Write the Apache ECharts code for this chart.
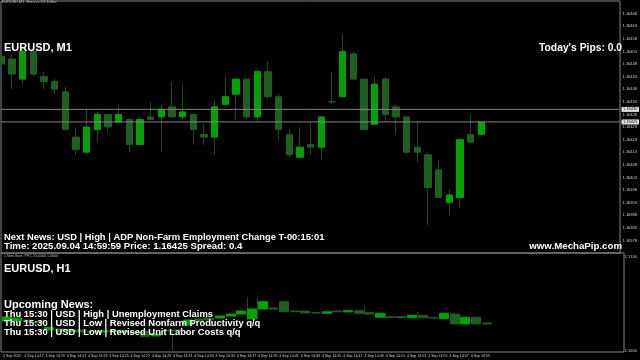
<!DOCTYPE html>
<html><head><meta charset="utf-8">
<script src="https://cdn.jsdelivr.net/npm/echarts@6/dist/echarts.min.js"></script>
<style>html,body{margin:0;padding:0;background:#000}#c{width:640px;height:360px}</style>
</head><body><div id="c"></div>
<script>
// ---- categories (M1 bar times) ----
const timeCats = ['14:15','14:16','14:17','14:18','14:19','14:20','14:21','14:22','14:23','14:24',
'14:25','14:26','14:27','14:28','14:29','14:30','14:31','14:32','14:33','14:34',
'14:35','14:36','14:37','14:38','14:39','14:40','14:41','14:42','14:43','14:44',
'14:45','14:46','14:47','14:48','14:49','14:50','14:51','14:52','14:53','14:54',
'14:55','14:56','14:57','14:58','14:59','15:00','15:01'];
const firstDateLabel = '4 Sep 2025';
const dayPrefix = '4 Sep ';

// ---- EURUSD M1 candles ----
const openP = [1.16451,1.16450,1.16442,1.16453,1.16443,1.16441,1.16437,1.16419,1.16413,1.16422,
1.16428,1.16425,1.16426,1.16416,1.16427,1.16427,1.16431,1.16427,1.16428,1.16420,
1.16419,1.16432,1.16436,1.16442,1.16427,1.16445,1.16435,1.16420,1.16411,1.16416,
1.16415,1.16433,1.16435,1.16452,1.16442,1.16424,1.16442,1.16431,1.16427,1.16415,
1.16412,1.16406,1.16393,1.16395,1.16420,1.16420];
const closeP = [1.16448,1.16444,1.16453,1.16444,1.16441,1.16438,1.16422,1.16414,1.16423,1.16428,
1.16423,1.16428,1.16416,1.16426,1.16426,1.16430,1.16427,1.16429,1.16422,1.16419,
1.16431,1.16435,1.16442,1.16427,1.16445,1.16435,1.16422,1.16412,1.16415,1.16415,
1.16427,1.16433,1.16453,1.16442,1.16422,1.16440,1.16428,1.16427,1.16413,1.16413,
1.16399,1.16395,1.16396,1.16418,1.16417,1.16425];
const highP = [1.16451,1.16452,1.16455,1.16454,1.16445,1.16442,1.16439,1.16423,1.16430,1.16429,
1.16428,1.16432,1.16426,1.16427,1.16433,1.16432,1.16441,1.16440,1.16428,1.16424,
1.16434,1.16443,1.16442,1.16442,1.16446,1.16449,1.16436,1.16422,1.16423,1.16425,
1.16427,1.16445,1.16460,1.16453,1.16442,1.16443,1.16443,1.16432,1.16427,1.16425,
1.16413,1.16410,1.16398,1.16419,1.16428,1.16425];
const lowP = [1.16447,1.16438,1.16440,1.16443,1.16438,1.16436,1.16422,1.16412,1.16412,1.16417,
1.16421,1.16425,1.16413,1.16416,1.16426,1.16413,1.16427,1.16426,1.16416,1.16416,
1.16412,1.16432,1.16426,1.16426,1.16425,1.16434,1.16418,1.16411,1.16411,1.16412,
1.16410,1.16432,1.16435,1.16442,1.16422,1.16424,1.16425,1.16420,1.16412,1.16409,
1.16384,1.16395,1.16388,1.16391,1.16417,1.16420];
const askPrice = 1.16430;
const bidPrice = 1.16425;
const mainMin = 1.16373, mainMax = 1.16473;

// ---- "New Bars" sub-window ----
const nbOpen = [1.16784,1.16784,1.16794,1.16775,1.16698,1.16708,1.16684,1.16698,1.16689,1.16679,
1.16693,1.16679,1.16679,1.16682,1.16641,1.16698,1.16698,1.16746,1.16804,1.16813,
1.16813,1.16832,1.16851,1.16804,1.16899,1.16909,1.16969,1.16880,1.16880,1.16864,
1.16858,1.16880,1.16871,1.16883,1.16864,1.16820,1.16826,1.16826,1.16816,1.16839,
1.16816,1.16806,1.16851,1.16756,1.16820,1.16765];
const nbClose = [1.16823,1.16813,1.16775,1.16765,1.16722,1.16689,1.16698,1.16679,1.16679,1.16689,
1.16684,1.16689,1.16669,1.16634,1.16660,1.16689,1.16689,1.16794,1.16784,1.16794,
1.16832,1.16851,1.16880,1.16899,1.16969,1.16899,1.16873,1.16873,1.16861,1.16861,
1.16873,1.16873,1.16883,1.16858,1.16851,1.16858,1.16820,1.16816,1.16839,1.16816,
1.16813,1.16858,1.16756,1.16820,1.16756,1.16756];
const nbWickHigh = [null,null,null,null,null,null,null,null,null,null,
null,null,null,null,null,null,1.16698,null,null,null,
null,null,null,1.17014,1.17014,null,null,null,null,null,
null,null,null,null,1.16928,null,1.16861,null,null,1.16873,
null,null,null,null,null,null];
const nbWickLow = [null,null,null,null,null,null,null,null,null,null,
null,null,null,null,null,null,1.16507,null,null,null,
null,null,null,1.16794,1.16794,null,null,null,null,null,
null,null,null,null,1.16861,null,1.16801,null,null,1.16801,
null,null,null,null,null,null];
const subMin = 1.1650, subMax = 1.1740;

// ---- texts ----
const windowTitle = 'EURUSD,M1  Euro vs US Dollar';
const mainLabel = 'EURUSD, M1';
const pipsText = "Today's Pips: 0.0";
const nextNews = 'Next News: USD | High | ADP Non-Farm Employment Change T-00:15:01';
const timeLine = 'Time: 2025.09.04 14:59:59 Price: 1.16425 Spread: 0.4';
const siteText = 'www.MechaPip.com';
const subTitle = '1 New Bars: PPC 25.0000 1.0000';
const h1Label = 'EURUSD, H1';
const upcomingHead = 'Upcoming News:';
const upcoming = ['Thu 15:30 | USD | High | Unemployment Claims',
 'Thu 15:30 | USD | Low | Revised Nonfarm Productivity q/q',
 'Thu 15:30 | USD | Low | Revised Unit Labor Costs q/q'];

// ---- styles ----
const BULL = '#05a005', BEAR = '#1f5f1f', WICK = '#18501a', LINE = '#858585';
const SLOT = 32/3;
const FONT = '"Liberation Sans", Arial, sans-serif';

const bodyData = openP.map((o,i)=>[o, closeP[i], Math.min(o,closeP[i]), Math.max(o,closeP[i])]);
const wickData = openP.map((o,i)=>[o, closeP[i], lowP[i], highP[i]]);
const nbBody = nbOpen.map((o,i)=>[o, nbClose[i], Math.min(o,nbClose[i]), Math.max(o,nbClose[i])]);
const nbWick = nbWickHigh.map((h,i)=> h==null ? '-' : [nbWickLow[i], h, nbWickLow[i], h]);

const chart = echarts.init(document.getElementById('c'), null, {renderer:'canvas'});
const hiddenCat = (gi)=>({type:'category', gridIndex:gi, data:timeCats, boundaryGap:false, show:false});
const txt = (x,y,text,size,align,color)=>({type:'text', x:x, y:y, z:100, silent:true,
  style:{text:text, fill:color||'#fff', font:'bold '+size+'px '+FONT, textAlign:align||'left', textVerticalAlign:'middle'}});

chart.setOption({
  backgroundColor:'#000',
  animation:false,
  grid:[
    {left:1.3, top:1, width:SLOT*(timeCats.length-1), height:252},          // 0 main candles
    {left:1, top:1, width:623, height:252, show:true, borderColor:LINE, borderWidth:1, backgroundColor:'transparent'}, // 1 main frame
    {left:1.3, top:256.7, width:SLOT*timeCats.length, height:94},           // 2 sub blocks
    {left:1.3, top:256.7, width:SLOT*(timeCats.length-1), height:94},       // 3 sub wicks + time axis
    {left:1, top:253, width:623, height:99, show:true, borderColor:LINE, borderWidth:1, backgroundColor:'transparent'}, // 4 sub frame
    {left:1, top:256.7, width:623, height:94}                                // 5 sub labels
  ],
  xAxis:[
    hiddenCat(0),
    {type:'value', gridIndex:1, min:0, max:1, show:false},
    {type:'category', gridIndex:2, data:timeCats, boundaryGap:true, show:false},
    {type:'category', gridIndex:3, data:timeCats, boundaryGap:false,
      axisLine:{show:false}, axisTick:{show:false}, splitLine:{show:false},
      axisLabel:{show:true, margin:3.5, fontSize:3.6, color:'#d0d0d0', fontFamily:FONT, align:'left',
        interval:(idx)=> idx%2===0 && idx<=44,
        formatter:(v,idx)=> idx===0 ? firstDateLabel : dayPrefix+v}},
    {type:'value', gridIndex:4, min:0, max:1, show:false},
    {type:'value', gridIndex:5, min:0, max:1, show:false}
  ],
  yAxis:[
    {type:'value', gridIndex:0, min:mainMin, max:mainMax, show:false},
    {type:'value', gridIndex:1, position:'right', min:mainMin, max:mainMax, interval:0.00001,
      axisLine:{show:false}, axisTick:{show:false}, splitLine:{show:false},
      axisLabel:{margin:2.5, fontSize:4, color:'#d0d0d0', fontFamily:FONT,
        formatter:(v)=>{const p=Math.round(v*1e5); return (p>116375 && p<116471 && (p-116423)%5===0)? v.toFixed(5):'';}}},
    {type:'value', gridIndex:2, min:subMin, max:subMax, show:false},
    {type:'value', gridIndex:3, min:subMin, max:subMax, show:false},
    {type:'value', gridIndex:4, min:0, max:1, show:false},
    {type:'value', gridIndex:5, position:'right', min:subMin, max:subMax, interval:0.0001,
      axisLine:{show:false}, axisTick:{show:false}, splitLine:{show:false},
      axisLabel:{margin:2.5, fontSize:4, color:'#d0d0d0', fontFamily:FONT,
        formatter:(v)=>{const p=Math.round(v*1e4); return (p===11650||p===11740)? v.toFixed(4):'';}}}
  ],
  series:[
    {name:'ask', type:'line', xAxisIndex:1, yAxisIndex:1, symbol:'none', silent:true,
      data:[[0,askPrice],[1,askPrice]], lineStyle:{color:LINE, width:1},
      endLabel:{show:true, distance:1.5, formatter:()=>askPrice.toFixed(5), fontSize:4, color:'#000',
        backgroundColor:'#e6e6e6', padding:[0.5,1.5], fontFamily:FONT}},
    {name:'bid', type:'line', xAxisIndex:1, yAxisIndex:1, symbol:'none', silent:true,
      data:[[0,bidPrice],[1,bidPrice]], lineStyle:{color:LINE, width:1},
      endLabel:{show:true, distance:1.5, formatter:()=>bidPrice.toFixed(5), fontSize:4, color:'#000',
        backgroundColor:'#e6e6e6', padding:[0.5,1.5], fontFamily:FONT}},
    {name:'wicks', type:'candlestick', xAxisIndex:0, yAxisIndex:0, data:wickData, barWidth:1, clip:true,
      itemStyle:{color:WICK, color0:WICK, borderColor:WICK, borderColor0:WICK, borderColorDoji:WICK, borderWidth:1}},
    {name:'bodies', type:'candlestick', xAxisIndex:0, yAxisIndex:0, data:bodyData, barWidth:7, clip:true,
      itemStyle:{color:BULL, color0:BEAR, borderColor:BULL, borderColor0:BEAR, borderColorDoji:BEAR, borderWidth:1}},
    {name:'nbWicks', type:'candlestick', xAxisIndex:3, yAxisIndex:3, data:nbWick, barWidth:1,
      itemStyle:{color:WICK, color0:WICK, borderColor:WICK, borderColor0:WICK, borderWidth:1}},
    {name:'nbBars', type:'candlestick', xAxisIndex:2, yAxisIndex:2, data:nbBody, barWidth:SLOT-1,
      itemStyle:{color:BULL, color0:BEAR, borderColor:BULL, borderColor0:BEAR, borderColorDoji:BEAR, borderWidth:1}}
  ],
  graphic:[
    {type:'text', x:2, y:2, z:100, silent:true, style:{text:windowTitle, fill:'#bbbbbb', font:'3.8px '+FONT, textVerticalAlign:'middle'}},
    txt(4, 48.3, mainLabel, 11),
    txt(622, 48.3, pipsText, 10.3, 'right'),
    txt(4, 237.5, nextNews, 9.4),
    txt(4, 246.5, timeLine, 9.6),
    txt(622, 246.2, siteText, 9.7, 'right'),
    {type:'text', x:4, y:255.6, z:100, silent:true, style:{text:subTitle, fill:'#bbbbbb', font:'3.6px '+FONT, textVerticalAlign:'middle'}},
    txt(4, 268.7, h1Label, 11),
    txt(4, 304.5, upcomingHead, 11),
    txt(4, 314.5, upcoming[0], 9.4),
    txt(4, 323.3, upcoming[1], 9.4),
    txt(4, 332.2, upcoming[2], 9.4)
  ]
});
</script></body></html>
